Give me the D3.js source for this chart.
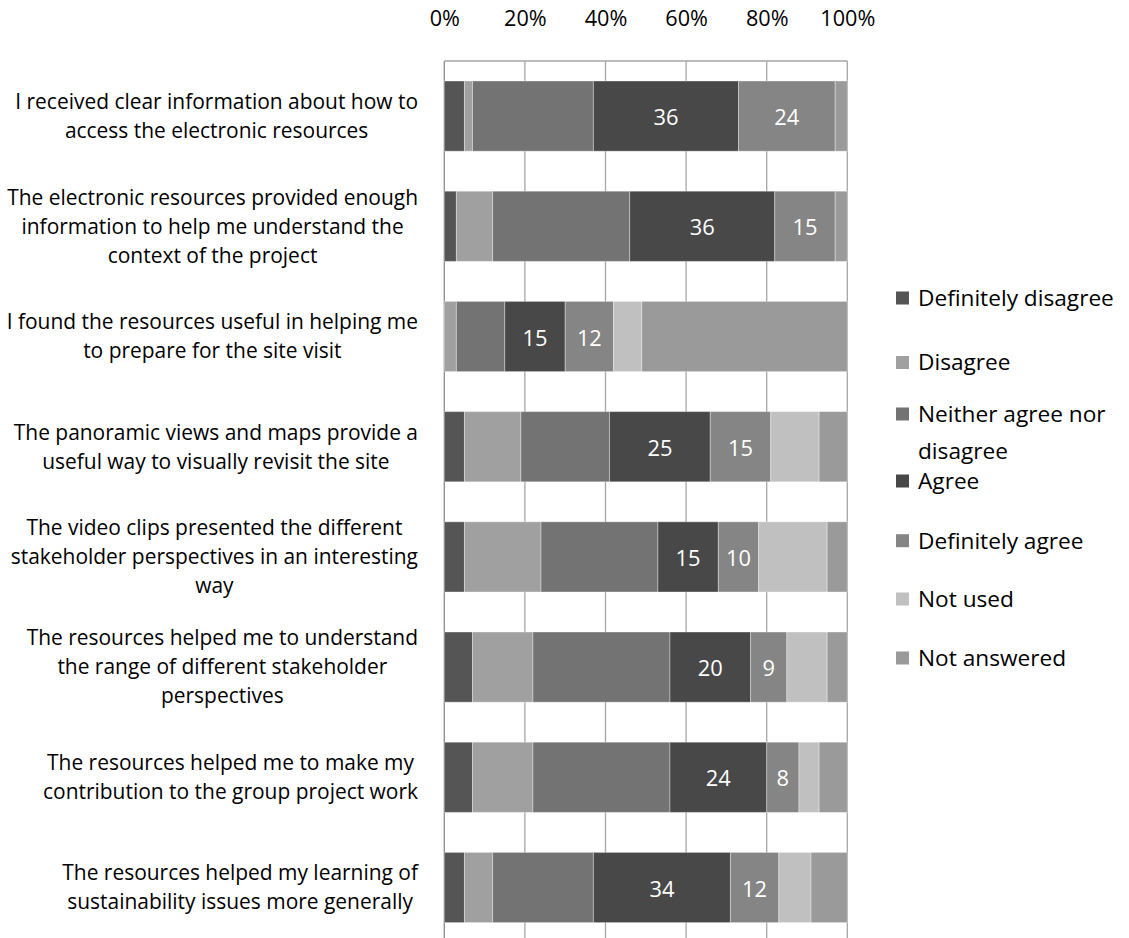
<html>
<head>
<script src="https://d3js.org/d3.v7.min.js"></script>
<style>
body { margin: 0; background: #fff; }
svg { display: block; font-family: 'Open Sans', 'Noto Sans', sans-serif; }
</style>
</head>
<body>
<div id="chart"></div>
<script>

var width = 1129;
var height = 938;

// statements, already wrapped the way the original chart wraps them
var questions = [
  ["I received clear information about how to", "access the electronic resources"],
  ["The electronic resources provided enough", "information to help me understand the", "context of the project"],
  ["I found the resources useful in helping me", "to prepare for the site visit"],
  ["The panoramic views and maps provide a", "useful way to visually revisit the site"],
  ["The video clips presented the different", "stakeholder perspectives in an interesting", "way"],
  ["The resources helped me to understand", "the range of different stakeholder", "perspectives"],
  ["The resources helped me to make my", "contribution to the group project work"],
  ["The resources helped my learning of", "sustainability issues more generally"]
];

var responses = ["Definitely disagree", "Disagree", "Neither agree nor disagree", "Agree",
  "Definitely agree", "Not used", "Not answered"];

// one array per response, one value per statement
var definitelyDisagree = [5, 3, 0, 5, 5, 7, 7, 5];
var disagree           = [2, 9, 3, 14, 19, 15, 15, 7];
var neither            = [30, 34, 12, 22, 29, 34, 34, 25];
var agree              = [36, 36, 15, 25, 15, 20, 24, 34];
var definitelyAgree    = [24, 15, 12, 15, 10, 9, 8, 12];
var notUsed            = [0, 0, 7, 12, 17, 10, 5, 8];
var notAnswered        = [3, 3, 51, 7, 5, 5, 7, 9];

var series = [definitelyDisagree, disagree, neither, agree, definitelyAgree, notUsed, notAnswered];
var labelled = ["Agree", "Definitely agree"];

var xTicks = [0, 0.2, 0.4, 0.6, 0.8, 1];

var colors = d3.scaleOrdinal().domain(responses)
  .range(["#555555", "#a0a0a0", "#737373", "#484848", "#858585", "#c0c0c0", "#9a9a9a"]);

// build rows for d3.stack
var rows = questions.map(function (q, i) {
  var row = { index: i };
  responses.forEach(function (r, j) { row[r] = series[j][i]; });
  return row;
});

var stack = d3.stack().keys(responses).offset(d3.stackOffsetExpand);
var layers = stack(rows);

var svg = d3.select("#chart").append("svg")
  .attr("width", width).attr("height", height);

svg.append("rect").attr("width", width).attr("height", height).attr("fill", "#fff");

// pick font sizes so the text is about as wide as the Calibri original
function fitSize(str, target) {
  var probe = svg.append("text").style("font-size", "100px").text(str);
  var size = 100 * target / probe.node().getComputedTextLength();
  probe.remove();
  return size;
}
var labelSize = fitSize("I received clear information about how to", 403);
var legendSize = fitSize("Definitely disagree", 196);
var tickSize = fitSize("100%", 55);
var valueSize = fitSize("36", 25);

var plotTop = 61, plotBottom = 942.6, plotLeft = 444.3, plotRight = 847.3;

var xScale = d3.scaleLinear().domain([0, 1]).range([plotLeft, plotRight]);
var yScale = d3.scaleBand().domain(d3.range(questions.length))
  .range([plotTop, plotBottom]).paddingInner(0.363).paddingOuter(0.1815);

// grid
svg.append("g").selectAll("line").data(xTicks).enter()
  .append("line")
  .attr("x1", d => xScale(d)).attr("x2", d => xScale(d))
  .attr("y1", plotTop).attr("y2", plotBottom)
  .style("stroke", d => d === 0 ? "#8c8c8c" : "#a6a6a6")
  .style("stroke-width", 1.3);

svg.append("line")
  .attr("x1", plotLeft).attr("x2", plotRight)
  .attr("y1", plotTop).attr("y2", plotTop)
  .style("stroke", "#a6a6a6").style("stroke-width", 1.3);

// bars
var groups = svg.append("g").selectAll("g").data(layers).enter()
  .append("g")
  .attr("fill", d => colors(d.key));

groups.selectAll("rect").data(d => d).enter()
  .append("rect")
  .attr("x", d => xScale(d[0]))
  .attr("width", d => xScale(d[1]) - xScale(d[0]))
  .attr("y", d => yScale(d.data.index))
  .attr("height", yScale.bandwidth())
  .style("stroke", "#ffffff")
  .style("stroke-opacity", 0.35)
  .style("stroke-width", 1);

// value labels on Agree / Definitely agree
groups.filter(d => labelled.indexOf(d.key) >= 0)
  .selectAll("text").data(d => d.map(p => ({ p: p, key: d.key }))).enter()
  .append("text")
  .filter(d => d.p.data[d.key] > 0)
  .attr("x", d => (xScale(d.p[0]) + xScale(d.p[1])) / 2)
  .attr("y", d => yScale(d.p.data.index) + yScale.bandwidth() / 2 + 1.5)
  .attr("dy", "0.35em")
  .attr("text-anchor", "middle")
  .style("fill", "#fff")
  .style("font-size", valueSize + "px")
  .text(d => d.p.data[d.key]);

// top axis
var xAxis = d3.axisTop(xScale).tickValues(xTicks).tickFormat(d3.format(".0%"))
  .tickSize(0).tickPadding(35);
var axisG = svg.append("g").attr("transform", "translate(0," + plotTop + ")").call(xAxis);
axisG.select(".domain").remove();
axisG.selectAll("text").style("font-size", tickSize + "px").style("fill", "#000")
  .style("font-family", "'Open Sans', 'Noto Sans', sans-serif");

// category labels, centred block whose longest line ends at the axis gap
var lineHeight = 29;
var labelRight = 418;
var labels = svg.append("g").selectAll("text").data(questions).enter()
  .append("text")
  .attr("text-anchor", "middle")
  .style("font-size", labelSize + "px")
  .style("fill", "#000");

labels.each(function (lines, i) {
  var t = d3.select(this);
  var cy = yScale(i) + yScale.bandwidth() / 2;
  lines.forEach(function (line, k) {
    t.append("tspan")
      .attr("y", cy + (k - (lines.length - 1) / 2) * lineHeight)
      .attr("dy", "0.35em")
      .text(line);
  });
  var maxW = d3.max(t.selectAll("tspan").nodes(), n => n.getComputedTextLength());
  t.selectAll("tspan").attr("x", labelRight - maxW / 2);
});

// legend: regular 60px slots, nudged like the original where the long entry wraps
var legendX = 896, legendTop = 298, legendStep = 60;
var legendNudge = [0, 4.5, -4, 3, 2.7, 1, 0];
var legend = svg.append("g").selectAll("g").data(responses).enter()
  .append("g")
  .attr("transform", (d, i) => "translate(" + legendX + "," + (legendTop + i * legendStep + legendNudge[i]) + ")");

legend.append("rect")
  .attr("x", 0).attr("width", 13)
  .attr("y", -6.5).attr("height", 13)
  .attr("fill", d => colors(d));

legend.append("text")
  .style("font-size", legendSize + "px")
  .style("fill", "#000")
  .each(function (d, i) {
    var t = d3.select(this);
    var parts = i === 2 ? ["Neither agree nor", "disagree"] : [d];
    parts.forEach(function (p, k) {
      t.append("tspan").attr("x", 22)
        .attr("y", k * 37)
        .attr("dy", "0.35em").text(p);
    });
  });

</script>
</body>
</html>
